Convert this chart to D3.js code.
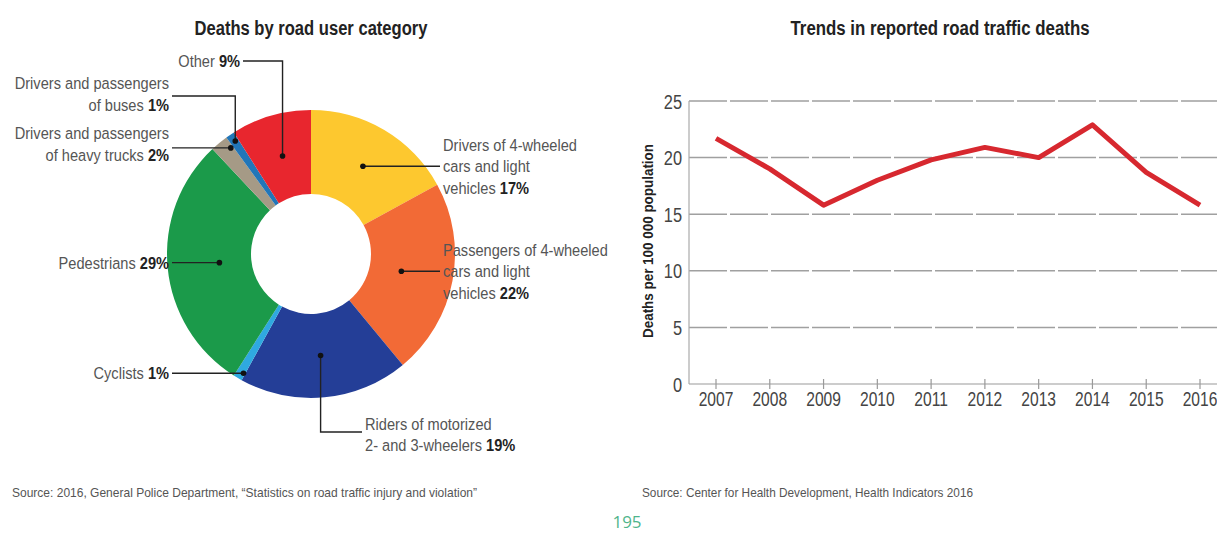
<!DOCTYPE html>
<html>
<head>
<meta charset="utf-8">
<script src="https://cdn.jsdelivr.net/npm/d3@7"></script>
<style>
  body { margin: 0; background: #fff; }
  svg { display: block; }
  text { font-family: "Liberation Sans", Arial, sans-serif; }
</style>
</head>
<body>
<svg id="ch" width="1217" height="533"></svg>
<script>
// donut data (clockwise from 12 o'clock)
var categories = ["Drivers of 4-wheeled cars and light vehicles",
                  "Passengers of 4-wheeled cars and light vehicles",
                  "Riders of motorized 2- and 3-wheelers",
                  "Cyclists",
                  "Pedestrians",
                  "Drivers and passengers of heavy trucks",
                  "Drivers and passengers of buses",
                  "Other"];
var shares = [17, 22, 19, 1, 29, 2, 1, 9];
var sliceColors = ["#fdc82f", "#f26a36", "#243e97", "#2fa9e0", "#1b9a4a", "#a59a86", "#2276b8", "#e8262e"];
// how the label text wraps, percent goes on the last line
var labelLines = [["Drivers of 4-wheeled", "cars and light", "vehicles"],
                  ["Passengers of 4-wheeled", "cars and light", "vehicles"],
                  ["Riders of motorized", "2- and 3-wheelers"],
                  ["Cyclists"],
                  ["Pedestrians"],
                  ["Drivers and passengers", "of heavy trucks"],
                  ["Drivers and passengers", "of buses"],
                  ["Other"]];

// line chart data
var years = [2007, 2008, 2009, 2010, 2011, 2012, 2013, 2014, 2015, 2016];
var deathRates = [21.7, 19.0, 15.8, 18.0, 19.8, 20.9, 20.0, 22.9, 18.7, 15.8];
var yTicks = [0, 5, 10, 15, 20, 25];

var SX = 0.86; // the print font is a condensed face, squeeze Liberation Sans
var svg = d3.select("#ch");

// puts x,y into a transform so the glyphs can be squeezed horizontally
function squeeze(sel, sx) {
    sel.each(function () {
        var t = d3.select(this);
        var x = +t.attr("x"), y = +t.attr("y");
        t.attr("x", 0).attr("y", 0)
         .attr("transform", "translate(" + x + "," + y + ") scale(" + sx + ",1)");
    });
}

// ---------- donut ----------
var cx = 311, cy = 254;
var arc = d3.arc().innerRadius(60).outerRadius(144);
var pie = d3.pie().sort(null).value(function (d) { return d; });
var arcs = pie(shares);

var g = svg.append("g").attr("transform", "translate(" + cx + "," + cy + ")");
g.selectAll("path")
    .data(arcs)
    .enter()
    .append("path")
    .attr("d", arc)
    .style("fill", function (d, i) { return sliceColors[i]; });

svg.append("text")
    .attr("x", 311).attr("y", 35)
    .attr("text-anchor", "middle")
    .attr("textLength", 233).attr("lengthAdjust", "spacingAndGlyphs")
    .style("font-size", "20px").style("font-weight", "bold").style("fill", "#222")
    .text("Deaths by road user category");

// leader layout: dot radius, where in the slice the dot sits (0..1), route, text anchor
var leaders = [
    {r: 102, at: 0.5, route: "h", tx: 440, side: "right", ly: 0},
    {r: 92,  at: 0.5, route: "h", tx: 440, side: "right", ly: 0},
    {r: 102, at: 0.5, route: "vh", vy: 432, tx: 362, side: "right", ly: -8},
    {r: 137, at: 0.2, route: "h", tx: 172, side: "left", ly: 0},
    {r: 92,  at: 0.5, route: "h", tx: 172, side: "left", ly: 0},
    {r: 133, at: 0.85, route: "h", tx: 172, side: "left", ly: -4},
    {r: 136, at: 0.6, route: "vh", vy: 96, tx: 172, side: "left", ly: -2},
    {r: 102, at: 0.5, route: "vh", vy: 61, tx: 243, side: "left", ly: 0}
];

arcs.forEach(function (a, i) {
    var L = leaders[i];
    var ang = a.startAngle + (a.endAngle - a.startAngle) * L.at;
    var dx = cx + L.r * Math.sin(ang), dy = cy - L.r * Math.cos(ang);
    var pts, endY;
    if (L.route === "h") { pts = [[dx, dy], [L.tx, dy]]; endY = dy; }
    else { pts = [[dx, dy], [dx, L.vy], [L.tx, L.vy]]; endY = L.vy; }
    svg.append("path")
        .attr("d", d3.line()(pts))
        .style("fill", "none").style("stroke", "#222").style("stroke-width", 1.4);
    svg.append("circle").attr("cx", dx).attr("cy", dy).attr("r", 2.8).style("fill", "#111");

    var lines = labelLines[i];
    var lh = 21.5;
    var n = lines.length;
    var top = endY + L.ly - (n - 1) * lh / 2;
    if (L.route === "vh" && L.side === "right") top = endY + L.ly;
    var ax = L.side === "left" ? L.tx - 3 : L.tx + 3;
    var t = svg.append("g")
        .attr("transform", "translate(" + ax + ",0) scale(" + SX + ",1)")
        .append("text")
        .attr("text-anchor", L.side === "left" ? "end" : "start")
        .style("font-size", "17px").style("fill", "#555");
    lines.forEach(function (s, k) {
        t.append("tspan")
            .attr("x", 0)
            .attr("y", top + k * lh + 6)
            .text(s);
        if (k === n - 1) {
            t.append("tspan").text(" ");
            t.append("tspan").style("font-weight", "bold").style("fill", "#222").text(shares[i] + "%");
        }
    });
});

svg.append("text")
    .attr("x", 12).attr("y", 497)
    .attr("textLength", 465).attr("lengthAdjust", "spacingAndGlyphs")
    .style("font-size", "13px").style("fill", "#555")
    .text("Source: 2016, General Police Department, \u201CStatistics on road traffic injury and violation\u201D");

// ---------- line chart ----------
var x = d3.scalePoint().domain(years).range([716, 1200]);
var y = d3.scaleLinear().domain([0, 25]).range([384, 101]);
var axisLeft = 689, axisRight = 1217;

svg.append("text")
    .attr("x", 940).attr("y", 35)
    .attr("text-anchor", "middle")
    .attr("textLength", 299).attr("lengthAdjust", "spacingAndGlyphs")
    .style("font-size", "20px").style("font-weight", "bold").style("fill", "#222")
    .text("Trends in reported road traffic deaths");

svg.selectAll(".grid")
    .data(yTicks.filter(function (d) { return d > 0; }))
    .enter()
    .append("line")
    .attr("class", "grid")
    .attr("x1", axisLeft).attr("x2", axisRight)
    .attr("y1", function (d) { return y(d); }).attr("y2", function (d) { return y(d); })
    .style("stroke", "#a0a0a0").style("stroke-width", 1.5).style("stroke-dasharray", "38,3");

svg.append("line")
    .attr("x1", axisLeft).attr("x2", axisRight).attr("y1", y(0)).attr("y2", y(0))
    .style("stroke", "#999").style("stroke-width", 1.2);
svg.append("line")
    .attr("x1", axisLeft).attr("x2", axisLeft).attr("y1", y(25)).attr("y2", y(0))
    .style("stroke", "#aaa").style("stroke-width", 1.2);

svg.selectAll(".xtick")
    .data(years)
    .enter()
    .append("line")
    .attr("class", "xtick")
    .attr("x1", function (d) { return x(d); }).attr("x2", function (d) { return x(d); })
    .attr("y1", y(0) - 5).attr("y2", y(0) + 5)
    .style("stroke", "#999").style("stroke-width", 1.2);

svg.selectAll(".xlab")
    .data(years)
    .enter()
    .append("text")
    .attr("class", "xlab")
    .attr("x", function (d) { return x(d); })
    .attr("y", 406)
    .attr("text-anchor", "middle")
    .style("font-size", "20px").style("fill", "#444")
    .text(function (d) { return d; })
    .call(squeeze, 0.78);

svg.selectAll(".ylab")
    .data(yTicks)
    .enter()
    .append("text")
    .attr("class", "ylab")
    .attr("x", 682)
    .attr("y", function (d) { return y(d) + 7.5; })
    .attr("text-anchor", "end")
    .style("font-size", "21px").style("fill", "#444")
    .text(function (d) { return d; })
    .call(squeeze, 0.78);

svg.append("text")
    .attr("transform", "translate(653,241) rotate(-90)")
    .attr("text-anchor", "middle")
    .attr("textLength", 194).attr("lengthAdjust", "spacingAndGlyphs")
    .style("font-size", "15px").style("font-weight", "bold").style("fill", "#222")
    .text("Deaths per 100 000 population");

var line = d3.line()
    .x(function (d, i) { return x(years[i]); })
    .y(function (d) { return y(d); });

svg.append("path")
    .datum(deathRates)
    .attr("d", line)
    .style("fill", "none").style("stroke", "#d7282f").style("stroke-width", 5)
    .style("stroke-linejoin", "round");

svg.append("text")
    .attr("x", 642).attr("y", 497)
    .attr("textLength", 331).attr("lengthAdjust", "spacingAndGlyphs")
    .style("font-size", "13px").style("fill", "#555")
    .text("Source: Center for Health Development, Health Indicators 2016");

svg.append("text")
    .attr("x", 627).attr("y", 528)
    .attr("text-anchor", "middle")
    .style("font-family", "'Open Sans', sans-serif")
    .style("font-size", "17px").style("fill", "#4fb58c")
    .text("195");
</script>
</body>
</html>
